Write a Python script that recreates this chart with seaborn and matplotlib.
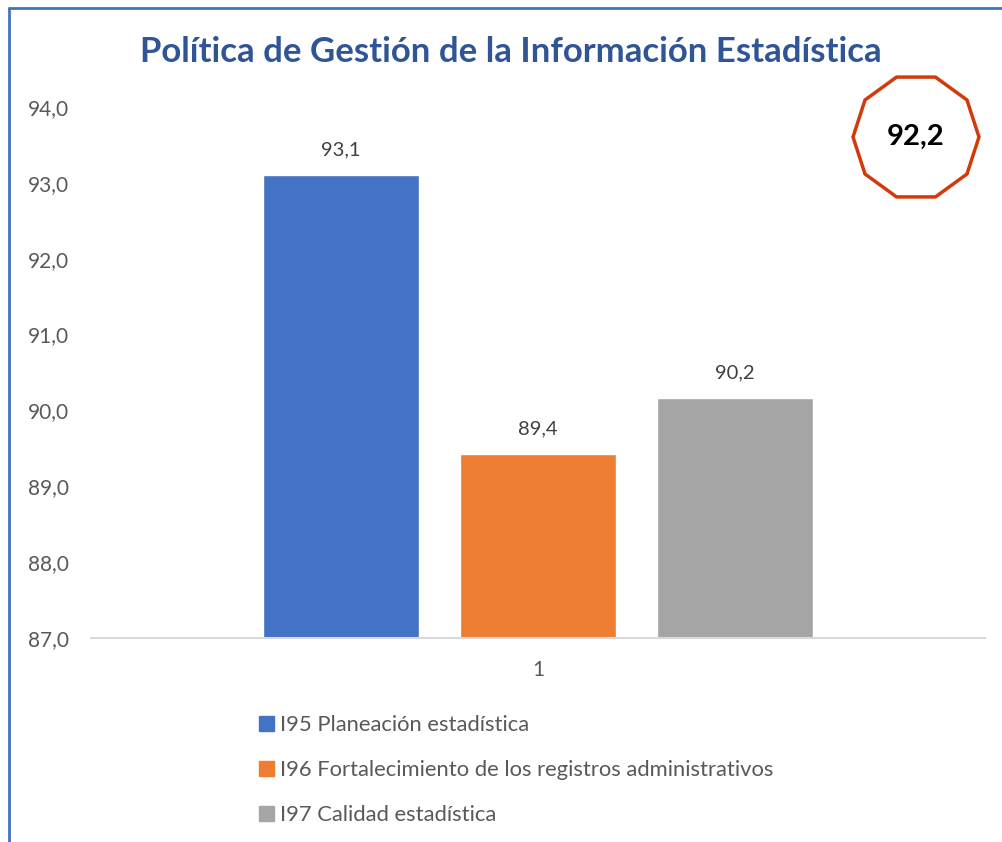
import matplotlib.pyplot as plt
import matplotlib.lines as mlines
import matplotlib.patches as mpatches
import seaborn as sns
import numpy as np
import pandas as pd

# datos
categorias = ["1", "1", "1"]
indicadores = [
    "I95 Planeación estadística",
    "I96 Fortalecimiento de los registros administrativos",
    "I97 Calidad estadística",
]
valores = [93.1, 89.43, 90.16]
colores = ["#4472C4", "#ED7D31", "#A5A5A5"]
indice_total = 92.2
yticks = [87, 88, 89, 90, 91, 92, 93, 94]

df = pd.DataFrame({"cat": categorias, "ind": indicadores, "val": valores})

sns.set_theme(style="white")
plt.rcParams["font.family"] = ["Lato", "DejaVu Sans"]

W, H = 1003, 842
fig = plt.figure(figsize=(W / 100, H / 100), dpi=100)
ax = fig.add_axes([91 / W, 1 - 638 / H, (985 - 91) / W, (638 - 107) / H])

sns.barplot(data=df, x="cat", y="val", hue="ind", palette=colores,
            width=0.661, gap=0.208, ax=ax, legend=False, saturation=1)

ax.set_ylim(87, 94)
ax.set_xlim(-0.5, 0.5)
ax.set_yticks(yticks)
ax.set_yticklabels([f"{v:.1f}".replace(".", ",") for v in yticks])
ax.set_xlabel("")
ax.set_ylabel("")
ax.tick_params(axis="y", labelsize=15, labelcolor="#595959", length=0, pad=16)
ax.tick_params(axis="x", labelsize=15, labelcolor="#595959", length=0, pad=16)
for s in ["top", "right", "left"]:
    ax.spines[s].set_visible(False)
ax.spines["bottom"].set_color("#D9D9D9")
ax.spines["bottom"].set_linewidth(1.5)

# etiquetas de datos
for cont in ax.containers:
    for bar in cont:
        h = bar.get_height()
        ax.annotate(f"{h:.1f}".replace(".", ","),
                    (bar.get_x() + bar.get_width() / 2, h),
                    xytext=(0, 12), textcoords="offset points",
                    ha="center", va="bottom", fontsize=14.5, color="#404040")

# titulo
fig.text(511 / W, 1 - 52 / H, "Política de Gestión de la Información Estadística",
         ha="center", va="center", fontsize=25, fontweight="bold", color="#2F5597")

# leyenda
handles = [mpatches.Patch(color=c, label=l) for c, l in zip(colores, indicadores)]
fig.legend(handles=handles, loc="upper left", bbox_to_anchor=(250 / W, 1 - 706 / H),
           frameon=False, fontsize=15.8, labelcolor="#595959", handlelength=0.68,
           handleheight=0.68, handletextpad=0.3, labelspacing=1.15, borderaxespad=0)

# decagono con el indice total
cx, cy, R = 916, 137, 63
ang = np.deg2rad(np.arange(0, 360, 36))
pts = np.column_stack([(cx + R * np.cos(ang)) / W, 1 - (cy - R * np.sin(ang)) / H])
fig.add_artist(mpatches.Polygon(pts, closed=True, fill=False, edgecolor="#D13B0B",
                                linewidth=2.5, transform=fig.transFigure))
fig.text(cx / W, 1 - cy / H, f"{indice_total:.1f}".replace(".", ","),
         ha="center", va="center", fontsize=21, fontweight="bold", color="black")

# borde del grafico
fig.add_artist(mlines.Line2D([9 / W, 9 / W], [0, 1 - 8 / H], color="#4472C4",
                             linewidth=2, transform=fig.transFigure))
fig.add_artist(mlines.Line2D([9 / W, 1], [1 - 8 / H, 1 - 8 / H], color="#4472C4",
                             linewidth=2, transform=fig.transFigure))

fig.savefig("out.png", dpi=100)
